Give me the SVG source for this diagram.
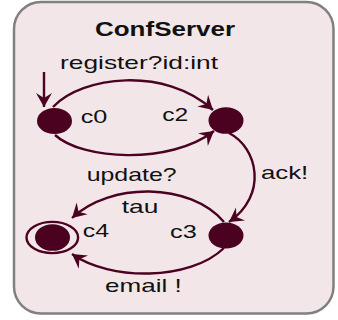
<svg xmlns="http://www.w3.org/2000/svg" width="338" height="320" viewBox="0 0 338 320">
  <defs>
    <style>
      .frame { fill: #f2e6e9; stroke: #808080; stroke-width: 2.5; }
      .edge { fill: none; stroke: #4a0220; stroke-width: 2.4; marker-end: url(#arrow); }
      .state { fill: #4a0220; }
      .ring { fill: none; stroke: #4a0220; stroke-width: 2.4; }
      .title { font-family: "Liberation Sans", Arial, sans-serif; font-weight: bold; font-size: 20px; fill: #111; }
      .label { font-family: "Liberation Sans", Arial, sans-serif; font-size: 19px; fill: #111; }
    </style>
    <marker id="arrow" viewBox="-15 -9 16 18" refX="0" refY="0" markerWidth="16" markerHeight="18" markerUnits="userSpaceOnUse" orient="auto">
      <path d="M0,0 L-14,-8 L-9,0 L-14,8 Z" fill="#4a0220"/>
    </marker>
  </defs>

  <!-- template frame -->
  <rect class="frame" x="14" y="2" width="319.5" height="311.5" rx="27" ry="27"/>
  <text class="title" x="95" y="36" textLength="140" lengthAdjust="spacingAndGlyphs">ConfServer</text>

  <!-- transitions -->
  <g id="connectors">
    <path id="init" class="edge" d="M44 72 L44 107"/>
    <path id="c0-c2-register" class="edge" d="M53 107 C82 76, 165 66, 213 110"/>
    <path id="c0-c2-update" class="edge" d="M55 135 C82 160, 170 165, 214 131"/>
    <path id="c2-c3-ack" class="edge" d="M229 133 C258 148, 268 195, 229 222"/>
    <path id="c3-c4-tau" class="edge" d="M224 222 C190 182, 110 182, 72 218"/>
    <path id="c3-c4-email" class="edge" d="M224 248 C190 281, 110 281, 72 254"/>
  </g>

  <!-- transition labels -->
  <g id="edge-labels">
    <text class="label" x="60" y="68.5" textLength="158" lengthAdjust="spacingAndGlyphs">register?id:int</text>
    <text class="label" x="86.7" y="180.5" textLength="90" lengthAdjust="spacingAndGlyphs">update?</text>
    <text class="label" x="261" y="179" textLength="47.3" lengthAdjust="spacingAndGlyphs">ack!</text>
    <text class="label" x="121.7" y="213.3" textLength="36.6" lengthAdjust="spacingAndGlyphs">tau</text>
    <text class="label" x="105" y="291.7" textLength="76.7" lengthAdjust="spacingAndGlyphs">email !</text>
  </g>

  <!-- locations -->
  <g id="c0">
    <ellipse class="state" cx="54.5" cy="121" rx="17.5" ry="13"/>
    <text class="label" x="80.7" y="123" textLength="26.6" lengthAdjust="spacingAndGlyphs">c0</text>
  </g>
  <g id="c2">
    <ellipse class="state" cx="226" cy="120.5" rx="17.5" ry="13.3"/>
    <text class="label" x="162.3" y="120.7" textLength="26" lengthAdjust="spacingAndGlyphs">c2</text>
  </g>
  <g id="c3">
    <ellipse class="state" cx="226" cy="235.5" rx="17.5" ry="13"/>
    <text class="label" x="170" y="238" textLength="26.7" lengthAdjust="spacingAndGlyphs">c3</text>
  </g>
  <g id="c4">
    <ellipse class="ring" cx="52.3" cy="237.5" rx="25.8" ry="15.6"/>
    <ellipse class="state" cx="52.5" cy="237.5" rx="17.5" ry="13.3"/>
    <text class="label" x="82.7" y="236.7" textLength="26.3" lengthAdjust="spacingAndGlyphs">c4</text>
  </g>
</svg>
